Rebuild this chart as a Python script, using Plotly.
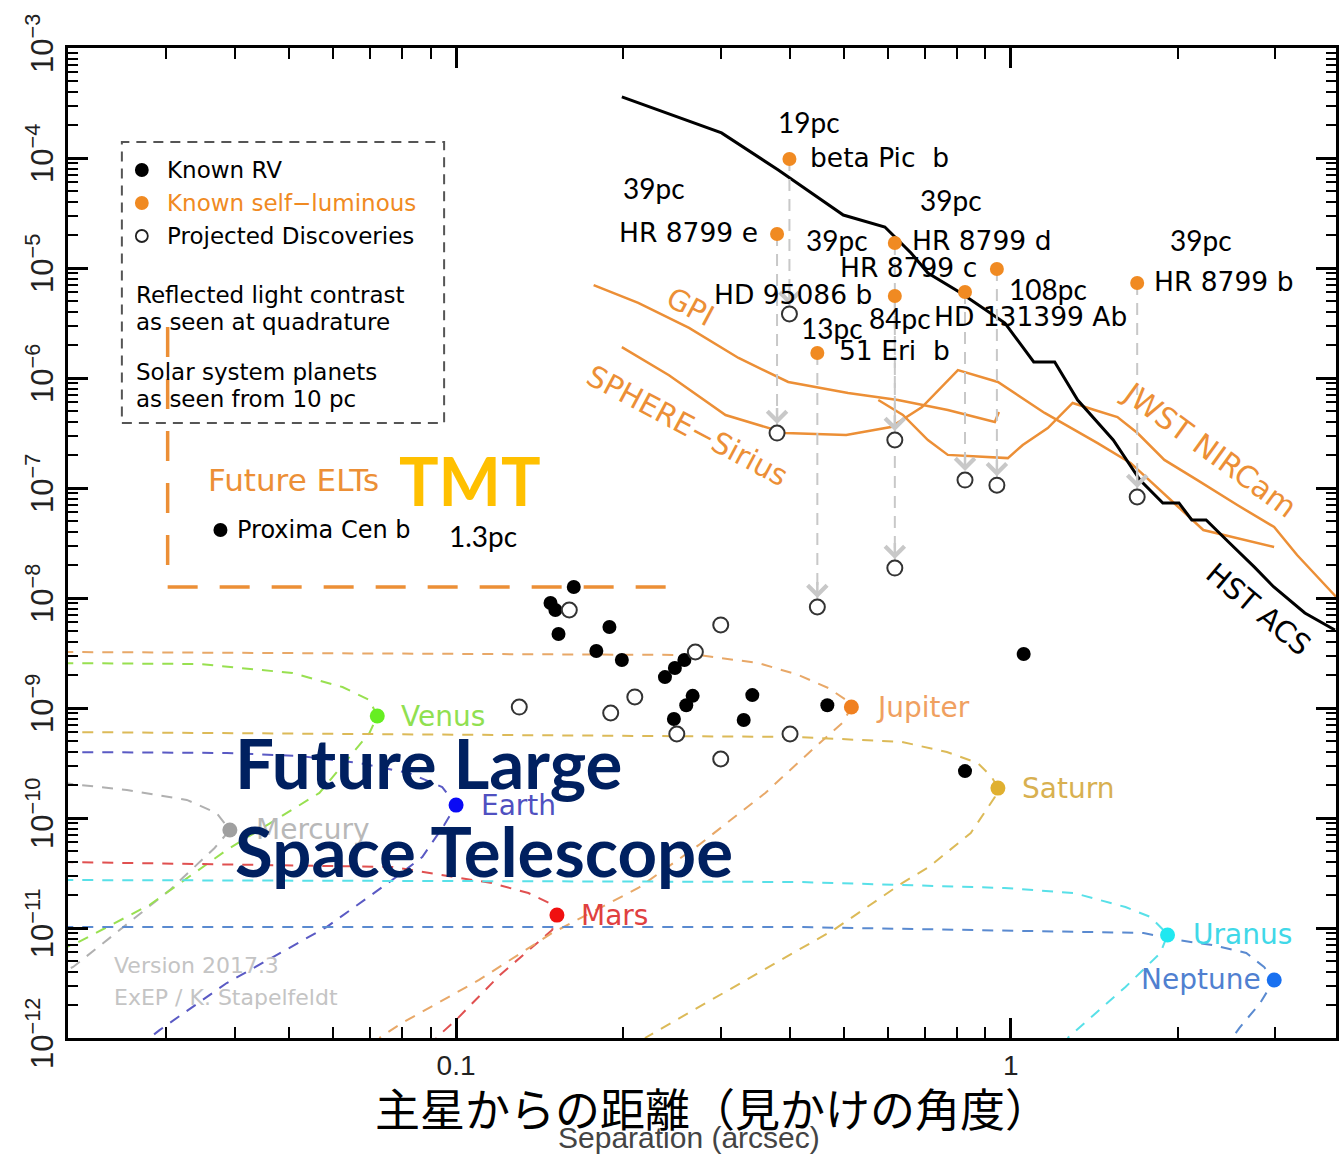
import numpy as np
import plotly.graph_objects as go

# ---------------- data (separation in arcsec, contrast) ----------------
# Known radial-velocity planets
rv_sep = [0.163, 0.148, 0.151, 0.153, 0.189, 0.179, 0.199, 0.238, 0.248, 0.258,
          0.267, 0.260, 0.247, 0.342, 0.330, 0.467, 1.055, 0.827]
rv_con = [1.26e-8, 9.0e-9, 7.78e-9, 4.71e-9, 5.45e-9, 3.30e-9, 2.73e-9, 1.91e-9, 2.31e-9, 2.73e-9,
          1.29e-9, 1.06e-9, 7.94e-10, 1.31e-9, 7.78e-10, 1.06e-9, 3.10e-9, 2.67e-10]

# Projected discoveries (reflected light)
proj_sep = [0.160, 0.130, 0.190, 0.210, 0.270, 0.300, 0.250, 0.300, 0.400]
proj_con = [7.78e-9, 1.02e-9, 9.01e-10, 1.26e-9, 3.23e-9, 5.69e-9, 5.80e-10, 3.44e-10, 5.80e-10]

# Known self-luminous planets and their reflected-light contrast
lum_names = ["beta\u00a0Pic\u00a0\u00a0b", "HR\u00a08799\u00a0e", "HR\u00a08799\u00a0d", "HR\u00a08799\u00a0c",
             "HD\u00a095086\u00a0b", "HD\u00a0131399\u00a0Ab", "51\u00a0Eri\u00a0\u00a0b", "HR\u00a08799\u00a0b"]
lum_sep = [0.399, 0.379, 0.618, 0.944, 0.618, 0.827, 0.448, 1.69]
lum_con = [9.8e-5, 2.04e-5, 1.69e-5, 9.8e-6, 5.56e-6, 6.05e-6, 1.69e-6, 7.3e-6]
lum_proj_con = [3.82e-6, 3.16e-7, 2.73e-7, 1.06e-7, 1.87e-8, 1.18e-7, 8.28e-9, 8.28e-8]
lum_dist = ["19pc", "39pc", "39pc", "39pc", "84pc", "108pc", "13pc", "39pc"]

# Proxima Cen b
prox_sep = [0.0376]
prox_con = [4.15e-8]

# Instrument contrast curves
hst_sep = [0.199, 0.301, 0.381, 0.499, 0.593, 0.619, 0.661, 0.709, 0.813, 0.976, 1.10, 1.20,
           1.32, 1.53, 1.71, 1.88, 2.01, 2.12, 2.25, 2.48, 2.75, 2.98, 3.39, 3.84]
hst_con = [3.59e-4, 1.69e-4, 7.78e-5, 3.03e-5, 2.36e-5, 1.91e-5, 1.37e-5, 9.01e-6, 5.93e-6, 3.16e-6,
           1.40e-6, 1.40e-6, 6.31e-7, 2.73e-7, 1.18e-7, 7.31e-8, 7.31e-8, 5.12e-8, 5.12e-8, 3.16e-8,
           1.91e-8, 1.26e-8, 7.31e-9, 5.12e-9]
gpi_sep = [0.177, 0.213, 0.263, 0.323, 0.397, 0.509, 0.626, 0.770, 0.936, 0.952]
gpi_con = [7.0e-6, 4.81e-6, 2.85e-6, 1.52e-6, 9.2e-7, 7.31e-7, 6.31e-7, 5.12e-7, 3.98e-7, 4.91e-7]
sphere_sep = [0.199, 0.242, 0.306, 0.392, 0.505, 0.608, 0.692, 0.803, 0.948, 1.151, 1.434, 1.644,
              2.005, 2.224, 2.984]
sphere_con = [1.91e-6, 1.06e-6, 4.61e-7, 3.16e-7, 3.03e-7, 3.59e-7, 5.45e-7, 1.18e-6, 9.2e-7, 4.81e-7,
              2.56e-7, 1.69e-7, 6.72e-8, 4.15e-8, 2.91e-8]
jwst_sep = [0.577, 0.639, 0.709, 0.770, 0.988, 1.051, 1.166, 1.293, 1.416, 1.557, 1.692, 1.892, 2.170,
            2.561, 2.984, 3.282, 3.906]
jwst_con = [6.31e-7, 4.61e-7, 2.73e-7, 2.0e-7, 1.87e-7, 2.46e-7, 3.51e-7, 5.93e-7, 5.12e-7, 4.42e-7,
            3.16e-7, 1.80e-7, 1.18e-7, 7.0e-8, 4.42e-8, 2.46e-8, 9.59e-9]

# Future ELT (TMT) limit
elt_sep = [0.0302, 0.0302, 0.2436]
elt_con = [2.91e-6, 1.26e-8, 1.26e-8]

# Solar system planets seen from 10 pc (phase curves)
mercury_sep = [0.0195, 0.0255, 0.0327, 0.0370, 0.0391, 0.0367, 0.0305, 0.0248, 0.0204, 0.0195]
mercury_con = [2.08e-10, 1.80e-10, 1.46e-10, 1.11e-10, 7.78e-11, 5.34e-11, 2.22e-11, 9.59e-12, 4.42e-12, 4.0e-12]
venus_sep = [0.0195, 0.0345, 0.0507, 0.0624, 0.0698, 0.0721, 0.0698, 0.0567, 0.0386, 0.0280, 0.0207, 0.0195]
venus_con = [2.56e-9, 2.51e-9, 2.08e-9, 1.55e-9, 1.18e-9, 8.45e-10, 5.93e-10, 1.69e-10, 5.12e-11, 1.62e-11,
             7.31e-12, 6.5e-12]
earth_sep = [0.0195, 0.0386, 0.0522, 0.0669, 0.0823, 0.0944, 0.100, 0.0952, 0.0869, 0.0767, 0.0584,
             0.0386, 0.0292, 0.0280]
earth_con = [3.98e-10, 3.90e-10, 3.66e-10, 3.16e-10, 2.56e-10, 1.91e-10, 1.31e-10, 8.64e-11, 4.42e-11,
             2.73e-11, 1.02e-11, 3.16e-12, 1.18e-12, 1.0e-12]
mars_sep = [0.0195, 0.0767, 0.116, 0.135, 0.147, 0.152, 0.149, 0.120, 0.100, 0.092]
mars_con = [3.98e-11, 3.59e-11, 2.56e-11, 2.08e-11, 1.69e-11, 1.31e-11, 9.59e-12, 3.74e-12, 1.46e-12, 1.0e-12]
jupiter_sep = [0.0195, 0.274, 0.351, 0.414, 0.469, 0.505, 0.516, 0.499, 0.444, 0.361, 0.274, 0.213,
               0.149, 0.110, 0.0799, 0.0727]
jupiter_con = [3.23e-9, 3.03e-9, 2.56e-9, 2.0e-9, 1.52e-9, 1.18e-9, 1.02e-9, 7.46e-10, 4.42e-10, 1.69e-10,
               5.69e-11, 2.31e-11, 9.01e-12, 3.37e-12, 1.37e-12, 1.0e-12]
saturn_sep = [0.0195, 0.414, 0.637, 0.767, 0.872, 0.924, 0.948, 0.936, 0.847, 0.712, 0.637, 0.551,
              0.479, 0.414, 0.219]
saturn_con = [6.05e-10, 5.45e-10, 4.91e-10, 3.98e-10, 3.16e-10, 2.36e-10, 1.87e-10, 1.55e-10, 7.31e-11,
              3.59e-11, 2.56e-11, 1.55e-11, 9.59e-12, 6.31e-12, 1.0e-12]
uranus_sep = [0.0195, 0.414, 0.975, 1.30, 1.61, 1.785, 1.884, 1.917, 1.861, 1.610, 1.266]
uranus_con = [2.73e-11, 2.62e-11, 2.31e-11, 2.08e-11, 1.55e-11, 1.26e-11, 9.59e-12, 8.64e-12, 5.93e-12,
              2.91e-12, 1.0e-12]
neptune_sep = [0.0195, 0.414, 1.735, 1.997, 2.308, 2.658, 2.862, 2.985, 2.816, 2.582, 2.508]
neptune_con = [1.02e-11, 1.02e-11, 9.01e-12, 7.78e-12, 7.0e-12, 5.93e-12, 4.42e-12, 3.37e-12, 2.08e-12,
               1.23e-12, 1.0e-12]

planet_names = ["Mercury", "Venus", "Earth", "Mars", "Jupiter", "Saturn", "Uranus", "Neptune"]
planet_sep = [0.0391, 0.0721, 0.100, 0.152, 0.516, 0.948, 1.917, 2.985]
planet_con = [7.78e-11, 8.45e-10, 1.31e-10, 1.31e-11, 1.02e-9, 1.87e-10, 8.64e-12, 3.37e-12]

# ---------------- styling ----------------
ROUND = "DejaVu Sans"
SANS = "Liberation Sans"
HUMAN = "Lato"
ORANGE = "#ec8f36"
DOT_ORANGE = "#f08a22"
GREY_ARROW = "#c8c8c8"

planet_curves = [
    (mercury_sep, mercury_con, "#b0b0b0", "#a0a0a0", "#b8b8b8"),
    (venus_sep, venus_con, "#98e050", "#66ee22", "#90e050"),
    (earth_sep, earth_con, "#5a5ac4", "#0a0af5", "#5050c0"),
    (mars_sep, mars_con, "#e05050", "#f01010", "#e04040"),
    (jupiter_sep, jupiter_con, "#e8a868", "#f08020", "#f0a060"),
    (saturn_sep, saturn_con, "#dcba58", "#e0b030", "#d8b050"),
    (uranus_sep, uranus_con, "#58e0e8", "#20e8f0", "#40d8e8"),
    (neptune_sep, neptune_con, "#5a8ad0", "#1870f0", "#5080d0"),
]

W, H = 1342, 1155
L, R, T, B = 68, 1339, 48, 1038


def px_x(p):
    return (p - L) / (R - L)


def px_y(p):
    return (B - p) / (B - T)


fig = go.Figure()

# planet phase curves
for sep, con, lc, mc, tc in planet_curves:
    fig.add_trace(go.Scatter(x=sep, y=con, mode="lines", hoverinfo="skip",
                             line=dict(color=lc, width=2, dash="11px,9px")))

# future ELT limit
fig.add_trace(go.Scatter(x=elt_sep, y=elt_con, mode="lines", hoverinfo="skip",
                         line=dict(color=ORANGE, width=3.5, dash="30px,22px")))

# instrument curves
for sep, con in [(gpi_sep, gpi_con), (sphere_sep, sphere_con), (jwst_sep, jwst_con)]:
    fig.add_trace(go.Scatter(x=sep, y=con, mode="lines", hoverinfo="skip",
                             line=dict(color=ORANGE, width=2.5)))
fig.add_trace(go.Scatter(x=hst_sep, y=hst_con, mode="lines", hoverinfo="skip",
                         line=dict(color="black", width=3)))

# dashed drops from self-luminous to reflected-light contrast
shaft_x, shaft_y = [], []
for s, c, p in zip(lum_sep, lum_con, lum_proj_con):
    shaft_x += [s, s, None]
    shaft_y += [c, p, None]
fig.add_trace(go.Scatter(x=shaft_x, y=shaft_y, mode="lines", hoverinfo="skip",
                         line=dict(color=GREY_ARROW, width=2, dash="12px,8px")))

# RV planets
fig.add_trace(go.Scatter(x=rv_sep + prox_sep, y=rv_con + prox_con, mode="markers",
                         marker=dict(color="black", size=14)))
# projected discoveries
fig.add_trace(go.Scatter(x=proj_sep + lum_sep, y=proj_con + lum_proj_con, mode="markers",
                         marker=dict(color="white", size=15, line=dict(color="#333333", width=2))))
# self-luminous
fig.add_trace(go.Scatter(x=lum_sep, y=lum_con, mode="markers",
                         marker=dict(color=DOT_ORANGE, size=14)))
# planets
fig.add_trace(go.Scatter(x=planet_sep, y=planet_con, mode="markers",
                         marker=dict(color=[c[3] for c in planet_curves], size=15)))

ann = []


def text(t, x, y, size, color="black", family=ROUND, xanchor="center", angle=0, ref="paper",
         xshift=0, yshift=0):
    if ref == "paper":
        xx, yy, xr, yr = px_x(x), px_y(y), "paper", "paper"
    else:
        xx, yy, xr, yr = np.log10(x), np.log10(y), "x", "y"
    ann.append(dict(text=t, x=xx, y=yy, xref=xr, yref=yr, showarrow=False, xanchor=xanchor,
                    yanchor="middle", textangle=angle, xshift=xshift, yshift=yshift,
                    font=dict(family=family, size=size, color=color)))


# arrow heads above the reflected-light points
for s, p in zip(lum_sep, lum_proj_con):
    ann.append(dict(text=" ", x=np.log10(s), y=np.log10(p), xref="x", yref="y", showarrow=True,
                    ax=0, ay=-26, yshift=9, arrowhead=4, arrowsize=1.5, arrowwidth=2.5,
                    arrowcolor=GREY_ARROW))

# star names and distances
name_shift = [(90, 1), (-89, 1), (87, 2), (-88, 1), (-102, 2), (65, -24), (77, 2), (86, 2)]
dist_shift = [(20, 37), (-123, 46), (56, 43), (-160, 29), (5, -22), (83, 3), (15, 25), (64, 43)]
for n, d, s, c, ns, ds in zip(lum_names, lum_dist, lum_sep, lum_con, name_shift, dist_shift):
    text(n, s, c, 26.5, ref="data", xshift=ns[0], yshift=ns[1])
    text(d, s, c, 28, family=HUMAN, ref="data", xshift=ds[0], yshift=ds[1])

# planet names
planet_label = [(24, "left"), (22, "left"), (23, "left"), (22, "left"),
                (23, "left"), (22, "left"), (23, "left"), (-11, "right")]
for nme, s, c, (sh, anc), pc in zip(planet_names, planet_sep, planet_con, planet_label, planet_curves):
    text(nme, s, c, 28, color=pc[4], ref="data", xanchor=anc, xshift=sh)

text("Proxima\u00a0Cen\u00a0b", prox_sep[0], prox_con[0], 24, ref="data", xanchor="left", xshift=15)
text("1.3pc", prox_sep[0], prox_con[0], 28, family=HUMAN, ref="data", xshift=263, yshift=-6)

# legend block
legend_rows = [("Known RV", 170, "black"), ("Known self\u2212luminous", 203, DOT_ORANGE),
               ("Projected Discoveries", 236, "black")]
for t, y, col in legend_rows:
    text(t, 165, y, 23, color=col, xanchor="left")
for t, y in [("Reflected light contrast", 295), ("as seen at quadrature", 322),
             ("Solar system planets", 372), ("as seen from 10 pc", 399)]:
    text(t, 134, y, 23, xanchor="left")

text("Future ELTs", 206, 480, 31, color=ORANGE, xanchor="left")
text("<b>TMT</b>", 398, 480, 66, color="#FFC000", family=HUMAN, xanchor="left")
text("<b>Future Large</b>", 233, 762, 69, color="#002060", family=HUMAN, xanchor="left")
text("<b>Space Telescope</b>", 233, 850, 69, color="#002060", family=HUMAN, xanchor="left")
text("Version 2017.3", 112, 965, 22, color="#c4c4c4", xanchor="left")
text("ExEP / K. Stapelfeldt", 112, 997, 22, color="#c4c4c4", xanchor="left")

# curve labels
text("GPI", 692, 307, 29, color=ORANGE, angle=28)
text("SPHERE\u2212Sirius", 689, 426, 29.5, color=ORANGE, angle=28)
text("JWST NIRCam", 1212, 450, 30, color=ORANGE, angle=36)
text("HST ACS", 1261, 609, 29, color="black", angle=40)

# axis titles
text("Separation (arcsec)", 690, 1137, 30, color="#444444", family=SANS)
text("主星からの距離（見かけの角度）", 714, 1107, 45, color="black", family="Noto Sans CJK JP")

shapes = [dict(type="rect", xref="paper", yref="paper", x0=px_x(122), x1=px_x(445),
               y0=px_y(423), y1=px_y(142), line=dict(color="#555555", width=2, dash="10px,7px"))]
for y, fill, edge in [(170, "black", "black"), (203, DOT_ORANGE, DOT_ORANGE), (236, "white", "#222222")]:
    shapes.append(dict(type="circle", xref="paper", yref="paper", xsizemode="pixel", ysizemode="pixel",
                       xanchor=px_x(142), yanchor=px_y(y), x0=-6, x1=6, y0=-6, y1=6,
                       fillcolor=fill, line=dict(color=edge, width=1.8)))

x_minor = [m * 10.0 ** e for e in (-2, -1, 0) for m in range(2, 10)]
y_minor = [m * 10.0 ** e for e in range(-12, -3) for m in range(2, 10)]
y_major = [10.0 ** e for e in range(-12, -2)]

fig.update_xaxes(type="log", range=[(L - 1013) / 556, (R - 1013) / 556], showgrid=False, zeroline=False,
                 showline=True, linewidth=3, linecolor="black", mirror="allticks",
                 ticks="inside", ticklen=20, tickwidth=2.5, tickcolor="black",
                 tickmode="array", tickvals=[0.1, 1], ticktext=["0.1", "1"],
                 tickfont=dict(family=SANS, size=28, color="#222222"),
                 minor=dict(tickmode="array", tickvals=x_minor, ticks="inside", ticklen=11,
                            tickwidth=2, tickcolor="black", showgrid=False))
fig.update_yaxes(type="log", range=[-12, -3], showgrid=False, zeroline=False,
                 showline=True, linewidth=3, linecolor="black", mirror="allticks",
                 ticks="inside", ticklen=20, tickwidth=2.5, tickcolor="black",
                 tickmode="array", tickvals=y_major,
                 ticktext=["10<sup>\u2212%d</sup>" % (-e) for e in range(-12, -2)],
                 tickangle=-90, tickfont=dict(family=SANS, size=31, color="#222222"),
                 minor=dict(tickmode="array", tickvals=y_minor, ticks="inside", ticklen=10,
                            tickwidth=2, tickcolor="black", showgrid=False))

fig.update_layout(width=W, height=H, margin=dict(l=L, r=W - R, t=T, b=H - B),
                  paper_bgcolor="white", plot_bgcolor="white", showlegend=False,
                  annotations=ann, shapes=shapes)

fig.write_html("out.html")
